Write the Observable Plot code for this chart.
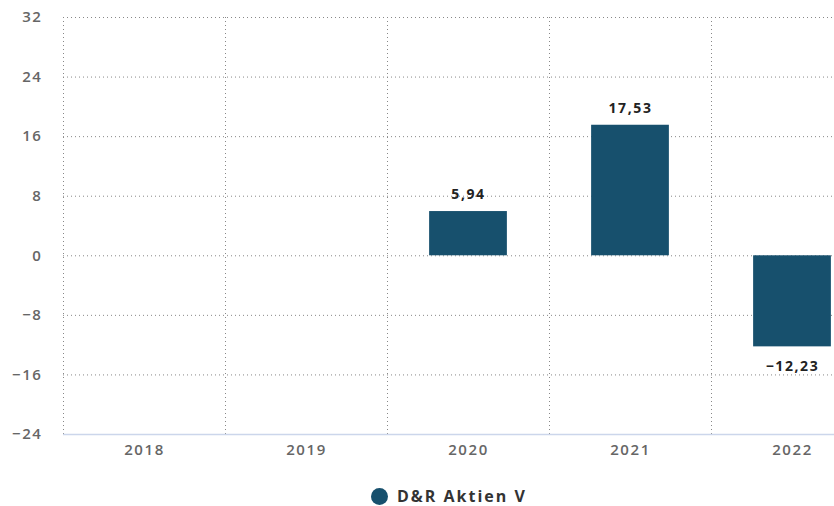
<!DOCTYPE html>
<html>
<head>
<meta charset="utf-8">
<script src="https://cdn.jsdelivr.net/npm/d3@7"></script>
<script src="https://cdn.jsdelivr.net/npm/@observablehq/plot@0.6"></script>
<style>
  html, body { margin: 0; padding: 0; background: #fff; overflow: hidden; width: 834px; height: 506px; }
  #chart svg { overflow: hidden !important; display: block; }
  #chart svg text { letter-spacing: 1.6px; }
  #legend { position: relative; height: 31px; font-family: "Open Sans", sans-serif; }
  #legend .dot { position: absolute; left: 371px; top: 13px; width: 17px; height: 17px; border-radius: 50%; }
  #legend .lbl { position: absolute; left: 397px; top: 13px; font-size: 16px; line-height: 17px; font-weight: 700; color: #333; letter-spacing: 2px; white-space: nowrap; }
</style>
</head>
<body>
<div id="chart"></div>
<div id="legend"><span class="dot"></span><span class="lbl"></span></div>
<script>
const years = ["2018", "2019", "2020", "2021", "2022"];
const values = [null, null, 5.94, 17.53, -12.23];
const yTicks = [-24, -16, -8, 0, 8, 16, 24, 32];
const seriesName = "D&R Aktien V";
const barColor = "#17506d";

const data = years.map((year, i) => ({year, i, value: values[i]})).filter(d => d.value != null);
const fmt = v => d3.format(".2f")(v).replace(".", ",").replace("-", "\u2212");
const yFmt = v => String(v).replace("-", "\u2212");

const chart = Plot.plot({
  width: 834,
  height: 475,
  marginTop: 17,
  marginBottom: 41,
  marginLeft: 63,
  marginRight: 0,
  style: {fontFamily: "'Open Sans', sans-serif", background: "#fff"},
  x: {type: "linear", domain: [0, years.length], range: [63, 873]},
  y: {domain: [-24, 32], range: [434, 17]},
  marks: [
    Plot.ruleY(yTicks.filter(t => t > -24), {stroke: "#888", strokeWidth: 1, strokeDasharray: "1,3"}),
    Plot.ruleX(d3.range(years.length + 1), {y1: -24, y2: 32, stroke: "#888", strokeWidth: 1, strokeDasharray: "1,3"}),
    Plot.ruleY([-24], {stroke: "#ccd6eb", strokeWidth: 1.5}),
    Plot.rectY(data, {x1: d => d.i + 0.26, x2: d => d.i + 0.74, y1: 0, y2: "value", fill: barColor}),
    Plot.text(data.filter(d => d.value >= 0), {x: d => d.i + 0.5, y: "value", text: d => fmt(d.value), dy: -17, fontSize: 14, fontWeight: 700, fill: "#222"}),
    Plot.text(data.filter(d => d.value < 0), {x: d => d.i + 0.5, y: "value", text: d => fmt(d.value), dy: 20, fontSize: 14, fontWeight: 700, fill: "#222"}),
    Plot.axisY(yTicks, {tickSize: 0, tickPadding: 21, tickFormat: yFmt, fontSize: 15, fontWeight: 600, fill: "#666", label: null}),
    Plot.axisX(years.map((_, i) => i + 0.5), {tickSize: 0, tickPadding: 10, tickFormat: v => years[Math.floor(v)], fontSize: 15, fontWeight: 600, fill: "#666", label: null})
  ]
});
document.getElementById("chart").appendChild(chart);
document.querySelector("#legend .dot").style.background = barColor;
document.querySelector("#legend .lbl").textContent = seriesName;
</script>
</body>
</html>
